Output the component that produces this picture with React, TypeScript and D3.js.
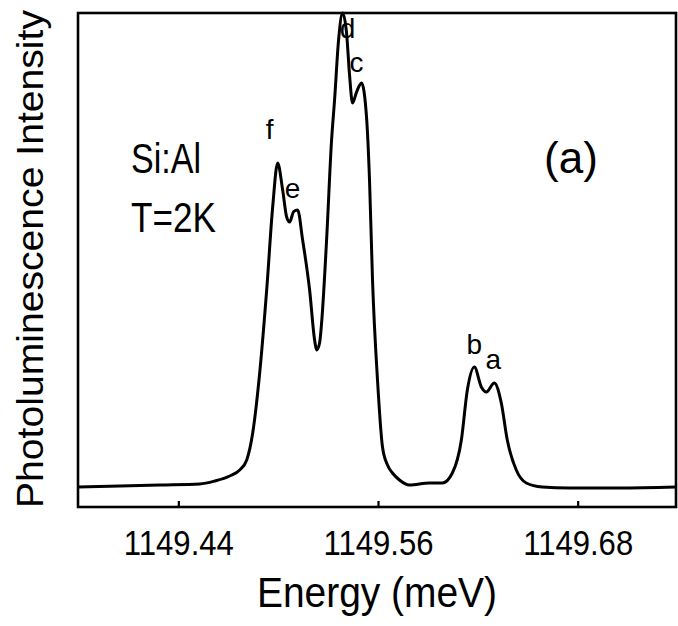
import React from "react";
import * as d3 from "d3";

const energy = [
  1149.3794, 1149.4046, 1149.4286, 1149.4526, 1149.4616, 1149.4706, 1149.4766, 1149.4808,
  1149.4844, 1149.4886, 1149.4928, 1149.4964, 1149.4994, 1149.5024, 1149.5048, 1149.5066,
  1149.509, 1149.5114, 1149.5144, 1149.5186, 1149.5216, 1149.5228, 1149.5246, 1149.5258,
  1149.5288, 1149.5318, 1149.5336, 1149.536, 1149.5384, 1149.5408, 1149.5426, 1149.5444,
  1149.5468, 1149.5498, 1149.5528, 1149.5546, 1149.5564, 1149.5594, 1149.5624, 1149.5654,
  1149.5684, 1149.5726, 1149.5786, 1149.5906, 1149.5984, 1149.6044, 1149.6098, 1149.6134,
  1149.6176, 1149.6218, 1149.6248, 1149.6296, 1149.6338, 1149.6374, 1149.6428, 1149.6488,
  1149.6584, 1149.6746, 1149.7046, 1149.7388,
];
const intensity = [
  4.05, 4.25, 4.45, 4.66, 5.26, 6.28, 7.49, 9.51,
  14.98, 27.13, 43.93, 60.73, 69.64, 64.17, 58.7, 57.69,
  59.8, 60.12, 54.05, 43.93, 33.81, 31.78, 33.2, 37.25,
  54.05, 74.29, 82.39, 94.5, 100, 95.95, 87.45, 81.78,
  84.0, 85.83, 78.95, 66.19, 45.95, 25.71, 12.15, 8.5,
  6.88, 5.47, 4.45, 4.86, 4.86, 6.88, 13.56, 23.68,
  28.34, 24.29, 23.28, 25.1, 21.05, 13.56, 7.49, 4.86,
  4.05, 3.85, 3.85, 4.05,
];
const xTicks = [1149.44, 1149.56, 1149.68];
const peakLabels = ["f", "e", "d", "c", "b", "a"];
const peakEnergy = [1149.4946, 1149.5084, 1149.5414, 1149.5468, 1149.6176, 1149.6290];
const peakLabelIntensity = [74.5, 62.5, 95, 88, 31, 28];

const W = 678;
const H = 626;
const FONT = "'Liberation Sans', Arial, sans-serif";

export default function App() {
  const x = d3.scaleLinear().domain([1149.38, 1149.74]).range([79, 678]);
  const y = d3.scaleLinear().domain([0, 100]).range([507, 13]);
  const pts: [number, number][] = energy.map((e, i) => [e, intensity[i]]);
  const line = d3
    .line<[number, number]>()
    .x((d) => x(d[0]))
    .y((d) => y(d[1]))
    .curve(d3.curveMonotoneX);

  return (
    <svg
      width={W}
      height={H}
      style={{ position: "absolute", left: 0, top: 0, background: "#fff" }}
    >
      <rect x={0} y={0} width={W} height={H} fill="#fff" />
      {/* frame */}
      <rect x={78} y={13} width={598} height={494} fill="none" stroke="#000" strokeWidth={2.6} />
      {/* ticks */}
      {xTicks.map((t) => (
        <line key={t} x1={x(t)} x2={x(t)} y1={507} y2={501} stroke="#000" strokeWidth={2.2} />
      ))}
      {xTicks.map((t) => (
        <text
          key={"l" + t}
          x={x(t)}
          y={555}
          textAnchor="middle"
          fontFamily={FONT}
          fontSize={35}
          textLength={110}
          lengthAdjust="spacingAndGlyphs"
          fill="#000"
        >
          {t.toFixed(2)}
        </text>
      ))}
      {/* curve */}
      <path d={line(pts) || ""} fill="none" stroke="#000" strokeWidth={3} strokeLinejoin="round" />
      {/* peak labels */}
      {peakLabels.map((l, i) => (
        <text
          key={l}
          x={x(peakEnergy[i])}
          y={y(peakLabelIntensity[i])}
          textAnchor="middle"
          fontFamily={FONT}
          fontSize={28}
          fill="#000"
        >
          {l}
        </text>
      ))}
      {/* annotations */}
      <text x={131} y={173} fontFamily={FONT} fontSize={42} textLength={70} lengthAdjust="spacingAndGlyphs">
        Si:Al
      </text>
      <text x={131} y={232} fontFamily={FONT} fontSize={43} textLength={85} lengthAdjust="spacingAndGlyphs">
        T=2K
      </text>
      <text x={571} y={173} textAnchor="middle" fontFamily={FONT} fontSize={44}>
        (a)
      </text>
      {/* axis titles */}
      <text
        x={377}
        y={607}
        textAnchor="middle"
        fontFamily={FONT}
        fontSize={42}
        textLength={240}
        lengthAdjust="spacingAndGlyphs"
      >
        Energy (meV)
      </text>
      <text
        transform="translate(43,259) rotate(-90)"
        textAnchor="middle"
        fontFamily={FONT}
        fontSize={36}
        textLength={498}
        lengthAdjust="spacingAndGlyphs"
      >
        Photoluminescence Intensity
      </text>
    </svg>
  );
}
